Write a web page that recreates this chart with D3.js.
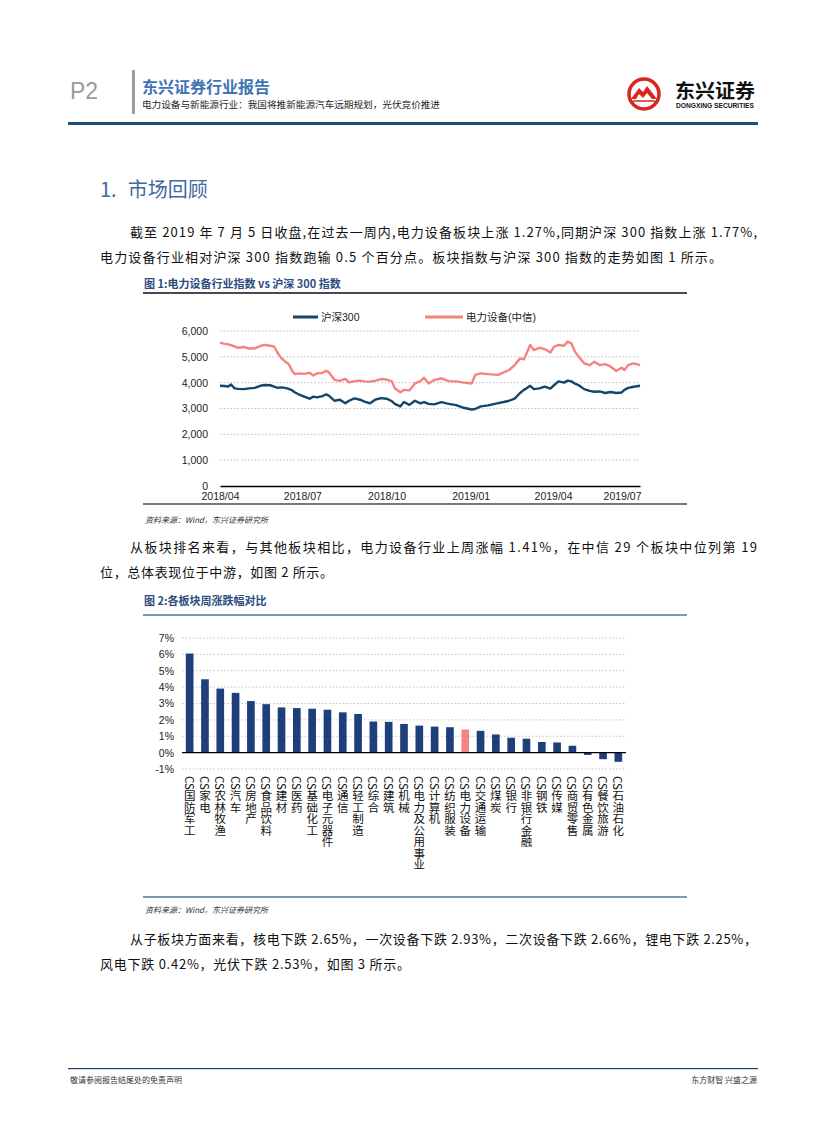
<!DOCTYPE html>
<html><head><meta charset="utf-8">
<script src="https://cdn.jsdelivr.net/npm/d3@7"></script>
<style>
body{margin:0;background:#fff}
svg{display:block}
</style></head><body>
<svg id="page" width="827" height="1122"></svg>
<script>
// ---------- Data: Figure 1 (index levels) ----------
const lineDates = ["2018-04-02","2018-04-07","2018-04-11","2018-04-14","2018-04-18","2018-04-22","2018-04-28","2018-05-04","2018-05-10","2018-05-16","2018-05-21","2018-05-27","2018-05-31","2018-06-04","2018-06-08","2018-06-12","2018-06-16","2018-06-20","2018-06-23","2018-06-27","2018-07-03","2018-07-09","2018-07-13","2018-07-17","2018-07-23","2018-07-27","2018-07-30","2018-08-05","2018-08-11","2018-08-17","2018-08-21","2018-08-27","2018-09-02","2018-09-07","2018-09-13","2018-09-19","2018-09-25","2018-10-01","2018-10-07","2018-10-10","2018-10-16","2018-10-20","2018-10-26","2018-11-01","2018-11-07","2018-11-11","2018-11-16","2018-11-22","2018-11-30","2018-12-08","2018-12-16","2018-12-23","2019-01-02","2019-01-06","2019-01-12","2019-01-20","2019-01-31","2019-02-06","2019-02-12","2019-02-18","2019-02-24","2019-02-28","2019-03-03","2019-03-07","2019-03-11","2019-03-17","2019-03-23","2019-03-29","2019-04-02","2019-04-07","2019-04-13","2019-04-17","2019-04-21","2019-04-25","2019-04-29","2019-05-05","2019-05-11","2019-05-16","2019-05-22","2019-05-28","2019-06-03","2019-06-09","2019-06-15","2019-06-18","2019-06-22","2019-06-28","2019-07-05"];
const hs300 = [3880,3870,3850,3930,3780,3760,3750,3780,3800,3880,3910,3900,3850,3800,3820,3800,3760,3700,3620,3550,3460,3380,3460,3430,3480,3550,3500,3300,3340,3200,3300,3390,3340,3270,3200,3350,3400,3380,3280,3180,3080,3250,3140,3300,3200,3250,3180,3160,3250,3180,3130,3040,2960,2980,3080,3120,3210,3250,3300,3380,3600,3720,3780,3880,3750,3780,3850,3770,3900,4050,4000,4080,4050,3960,3900,3750,3680,3650,3660,3600,3640,3600,3620,3720,3800,3840,3880];
const dianLiSheBei = [5550,5500,5480,5450,5400,5350,5380,5320,5330,5420,5460,5430,5400,5150,4950,4820,4720,4450,4330,4360,4340,4380,4280,4360,4380,4460,4400,4110,4070,4150,4010,4060,4080,4050,4040,4080,4140,4120,4050,3780,3630,3720,3700,3970,4060,4190,3970,4100,4170,4060,4050,4010,3970,4300,4360,4330,4300,4400,4490,4680,4940,4900,5130,5460,5260,5350,5300,5170,5390,5460,5430,5590,5520,5200,5000,4750,4680,4810,4680,4720,4620,4450,4580,4490,4680,4750,4680];
const lineSeriesNames = ["沪深300","电力设备(中信)"];
const lineXTickDates = ["2018-04-02","2018-07-01","2018-10-01","2019-01-01","2019-04-01","2019-07-01"];
const lineXTickLabels = ["2018/04","2018/07","2018/10","2019/01","2019/04","2019/07"];
const lineYTicks = [0,1000,2000,3000,4000,5000,6000];

// ---------- Data: Figure 2 (weekly change by sector) ----------
const sectors = ["国防军工","家电","农林牧渔","汽车","房地产","食品饮料","建材","医药","基础化工","电子元器件","通信","轻工制造","综合","建筑","机械","电力及公用事业","计算机","纺织服装","电力设备","交通运输","煤炭","银行","非银行金融","钢铁","传媒","商贸零售","有色金属","餐饮旅游","石油石化"];
const sectorChange = [6.05,4.48,3.91,3.65,3.15,2.96,2.76,2.72,2.68,2.62,2.46,2.36,1.90,1.88,1.75,1.65,1.59,1.55,1.41,1.33,1.11,0.91,0.85,0.65,0.62,0.42,-0.14,-0.40,-0.56];
const highlightSector = "电力设备";
const barYTicks = [-1,0,1,2,3,4,5,6,7];

// ---------- Page setup ----------
const CJK = "'Noto Sans CJK SC','Noto Sans',sans-serif";
const LAT = "'Liberation Sans',Arial,'Noto Sans CJK SC',sans-serif";
const svg = d3.select("#page");
svg.append("rect").attr("width",827).attr("height",1122).attr("fill","#fff");

// Header
svg.append("text").attr("x",70).attr("y",99).attr("font-family",LAT).attr("font-size",23).attr("fill","#9a9a9a").text("P2");
svg.append("rect").attr("x",132).attr("y",70).attr("width",3).attr("height",44).attr("fill","#9d9d9d");
svg.append("text").attr("x",142).attr("y",93).attr("font-family",CJK).attr("font-weight","bold").attr("font-size",16).attr("fill","#3f74b3").text("东兴证券行业报告");
svg.append("text").attr("x",142).attr("y",108).attr("font-family",CJK).attr("font-size",9).attr("fill","#222")
  .attr("textLength",298).attr("lengthAdjust","spacingAndGlyphs").text("电力设备与新能源行业：我国将推新能源汽车远期规划，光伏竞价推进");
svg.append("rect").attr("x",68).attr("y",122).attr("width",690).attr("height",3).attr("fill","#1f4e79");

// Logo
const logo = svg.append("g");
logo.append("circle").attr("cx",644).attr("cy",94).attr("r",15).attr("fill","#fff").attr("stroke","#d7261e").attr("stroke-width",3.5);
logo.append("path").attr("d","M631,99 L639,88 L643,92 L647,86 L657,99 L652,99 L647,93 L643,98 L639,94 L636,99 Z").attr("fill","#d7261e");
logo.append("path").attr("d","M633,101 L655,101").attr("stroke","#d7261e").attr("stroke-width",1.5);
svg.append("text").attr("x",675).attr("y",98).attr("font-family",CJK).attr("font-weight","bold").attr("font-size",19).attr("fill","#111")
  .attr("textLength",80).attr("lengthAdjust","spacingAndGlyphs").text("东兴证券");
svg.append("text").attr("x",676).attr("y",108).attr("font-family",LAT).attr("font-weight","bold").attr("font-size",6.5).attr("fill","#111")
  .attr("textLength",78).attr("lengthAdjust","spacingAndGlyphs").text("DONGXING SECURITIES");

// Section heading
const hd = svg.append("text").attr("x",100).attr("y",197).attr("font-family",CJK).attr("font-size",20).attr("fill","#3e6a9e");
hd.append("tspan").text("1.");
hd.append("tspan").attr("dx",11).text("市场回顾");

// Body paragraphs
function bodyLine(x,y,txt,len){
  const t = svg.append("text").attr("x",x).attr("y",y).attr("font-family",CJK).attr("font-size",13).attr("fill","#111").text(txt);
  if(len) t.attr("textLength",len).attr("lengthAdjust","spacing");
}
bodyLine(130,237,"截至 2019 年 7 月 5 日收盘,在过去一周内,电力设备板块上涨 1.27%,同期沪深 300 指数上涨 1.77%,",627);
bodyLine(100,262,"电力设备行业相对沪深 300 指数跑输 0.5 个百分点。板块指数与沪深 300 指数的走势如图 1 所示。",622);
bodyLine(130,552,"从板块排名来看，与其他板块相比，电力设备行业上周涨幅 1.41%，在中信 29 个板块中位列第 19",627);
bodyLine(100,577,"位，总体表现位于中游，如图 2 所示。",233);
bodyLine(130,944,"从子板块方面来看，核电下跌 2.65%，一次设备下跌 2.93%，二次设备下跌 2.66%，锂电下跌 2.25%，",627);
bodyLine(100,969,"风电下跌 0.42%，光伏下跌 2.53%，如图 3 所示。",310);

// Figure titles / frames
function figTitle(y,txt,lineY,lineColor){
  svg.append("text").attr("x",144).attr("y",y).attr("font-family",CJK).attr("font-weight","bold").attr("font-size",11).attr("fill","#2c4d80").text(txt);
  svg.append("rect").attr("x",143).attr("y",lineY).attr("width",544).attr("height",2).attr("fill",lineColor);
}
function source(lineY,y,lineColor){
  svg.append("rect").attr("x",143).attr("y",lineY).attr("width",544).attr("height",2).attr("fill",lineColor);
  svg.append("text").attr("x",145).attr("y",y).attr("font-family",CJK).attr("font-style","italic").attr("font-size",8).attr("fill","#333").text("资料来源：Wind，东兴证券研究所");
}
figTitle(288,"图 1:电力设备行业指数 vs 沪深 300 指数",292,"#4a4a4a");
source(503,523,"#777");
figTitle(605,"图 2:各板块周涨跌幅对比",614,"#7d99b3");
source(896,913,"#7d99b3");

// ---------- Figure 1: line chart ----------
const parse = d3.timeParse("%Y-%m-%d");
const dates = lineDates.map(parse);
const x1 = d3.scaleTime().domain([dates[0],dates[dates.length-1]]).range([220,640]);
const y1 = d3.scaleLinear().domain([0,6000]).range([486,331]);
const g1 = svg.append("g");
g1.selectAll("line.grid").data(lineYTicks.filter(d=>d>0)).join("line")
  .attr("x1",220).attr("x2",640).attr("y1",d=>y1(d)).attr("y2",d=>y1(d))
  .attr("stroke","#bdbdbd").attr("stroke-width",1).attr("stroke-dasharray","1.5,2");
const yAx1 = d3.axisLeft(y1).tickValues(lineYTicks).tickSize(0).tickPadding(0).tickFormat(d3.format(","));
g1.append("g").attr("transform","translate(208,0)").call(yAx1)
  .call(g=>g.select(".domain").remove())
  .call(g=>g.selectAll("text").attr("font-family",LAT).attr("font-size",10.5).attr("fill","#222"));
const xAx1 = d3.axisBottom(x1).tickValues(lineXTickDates.map(parse)).tickSize(0).tickPadding(7)
  .tickFormat((d,i)=>lineXTickLabels[i]);
const xg1 = g1.append("g").attr("transform","translate(0,486)").call(xAx1);
xg1.select(".domain").attr("stroke","#000").attr("stroke-width",1.6);
xg1.selectAll("text").attr("font-family",LAT).attr("font-size",10.5).attr("fill","#222");
xg1.selectAll(".tick").filter((d,i)=>i===lineXTickLabels.length-1).select("text")
  .attr("text-anchor","end").attr("x",641 - x1(parse(lineXTickDates[lineXTickDates.length-1])));
const line = d3.line().x((d,i)=>x1(dates[i])).y(d=>y1(d));
const colors = ["#154569","#f5827f"];
[hs300,dianLiSheBei].forEach((s,k)=>{
  g1.append("path").datum(s).attr("d",line).attr("fill","none").attr("stroke",colors[k]).attr("stroke-width",2.4).attr("stroke-linejoin","round");
});
// legend
const legendPos = [{x:293,w:25},{x:425,w:38}];
lineSeriesNames.forEach((n,k)=>{
  g1.append("line").attr("x1",legendPos[k].x).attr("x2",legendPos[k].x+legendPos[k].w).attr("y1",317).attr("y2",317).attr("stroke",colors[k]).attr("stroke-width",3);
  g1.append("text").attr("x",legendPos[k].x+legendPos[k].w+3).attr("y",321).attr("font-family",LAT).attr("font-size",10.5).attr("fill","#222").text(n);
});

// ---------- Figure 2: bar chart ----------
const x2 = d3.scaleBand().domain(sectors).range([182,626]).paddingInner(0.5).paddingOuter(0.25);
const y2 = d3.scaleLinear().domain([-1,7]).range([769,638]);
const g2 = svg.append("g");
g2.selectAll("line.grid").data(barYTicks.filter(d=>d!==0)).join("line")
  .attr("x1",182).attr("x2",626).attr("y1",d=>y2(d)).attr("y2",d=>y2(d))
  .attr("stroke","#c4c4c4").attr("stroke-width",1).attr("stroke-dasharray","1.5,2");
const yAx2 = d3.axisLeft(y2).tickValues(barYTicks).tickSize(0).tickPadding(0).tickFormat(d=>d+"%");
g2.append("g").attr("transform","translate(174,0)").call(yAx2)
  .call(g=>g.select(".domain").remove())
  .call(g=>g.selectAll("text").attr("font-family",LAT).attr("font-size",10.5).attr("fill","#222"));
g2.selectAll("rect.bar").data(sectors).join("rect")
  .attr("x",d=>x2(d)).attr("width",x2.bandwidth())
  .attr("y",(d,i)=>y2(Math.max(0,sectorChange[i])))
  .attr("height",(d,i)=>Math.abs(y2(sectorChange[i])-y2(0)))
  .attr("fill",d=>d===highlightSector?"#f38585":"#1f3f7b");
g2.append("line").attr("x1",182).attr("x2",626).attr("y1",y2(0)).attr("y2",y2(0)).attr("stroke","#000").attr("stroke-width",1.4);
g2.selectAll("text.lab").data(sectors).join("text")
  .attr("x",d=>x2(d)+x2.bandwidth()/2).attr("y",776)
  .attr("style","writing-mode: vertical-rl;")
  .attr("font-family",CJK).attr("font-size",11.5).attr("fill","#111")
  .text(d=>"CS"+d);

// Footer
svg.append("rect").attr("x",68).attr("y",1068).attr("width",690).attr("height",1.2).attr("fill","#1f3f5f");
svg.append("text").attr("x",70).attr("y",1083).attr("font-family",CJK).attr("font-size",8).attr("fill","#333").text("敬请参阅报告结尾处的免责声明");
svg.append("text").attr("x",757).attr("y",1083).attr("text-anchor","end").attr("font-family",CJK).attr("font-size",8).attr("fill","#333").text("东方财智 兴盛之源");
</script>
</body></html>
